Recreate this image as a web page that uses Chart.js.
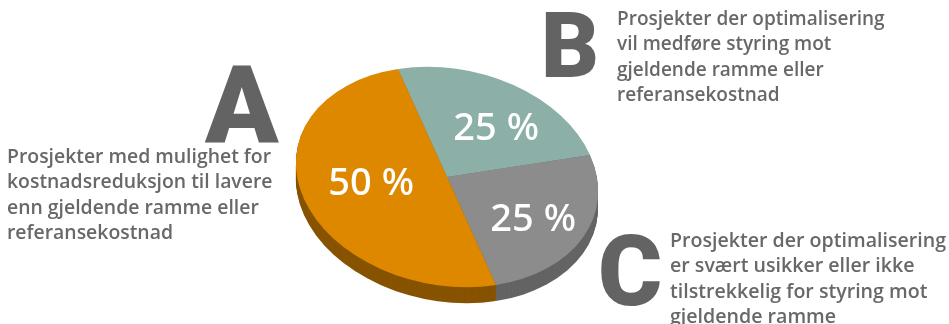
<!DOCTYPE html>
<html>
<head>
<meta charset="utf-8">
<script src="https://cdn.jsdelivr.net/npm/chart.js@4"></script>
<style>
  html, body { margin: 0; padding: 0; background: #fff; }
  #wrap { width: 949px; height: 324px; position: relative; }
</style>
</head>
<body>
<div id="wrap"><canvas id="pie" width="949" height="324"></canvas></div>
<script>
// data in drawing order, clockwise from the top
const categories = ['B', 'C', 'A'];
const shares = [25, 25, 50];
const valueLabels = ['25 %', '25 %', '50 %'];
const topColors = ['#8cb0a8', '#8c8c8c', '#de8800'];
const sideColors = ['#5f7d76', '#646464', '#875300'];

const notes = {
  A: ['Prosjekter med mulighet for', 'kostnadsreduksjon til lavere', 'enn gjeldende ramme eller', 'referansekostnad'],
  B: ['Prosjekter der optimalisering', 'vil medføre styring mot', 'gjeldende ramme eller', 'referansekostnad'],
  C: ['Prosjekter der optimalisering', 'er svært usikker eller ikke', 'tilstrekkelig for styring mot', 'gjeldende ramme'],
};

// where the tilted disc sits on the page
const CX = 447, CY = 177, DEPTH = 16;
// images of the circle's right and bottom radius
const RIGHT = [143, -22], DOWN = [49, 108];
// small hand nudges for the value labels
const NUDGE = [[8, 9], [2, 5], [0, -4]];

function tilt(ctx, x, y, r, dy) {
  ctx.translate(CX, CY + dy);
  ctx.transform(RIGHT[0] / r, RIGHT[1] / r, DOWN[0] / r, DOWN[1] / r, 0, 0);
  ctx.translate(-x, -y);
}

const disc = {
  id: 'disc',
  beforeDatasetsDraw(chart) {
    const ctx = chart.ctx;
    const arcs = chart.getDatasetMeta(0).data;
    const { x, y, outerRadius: r } = arcs[0];
    for (let d = DEPTH; d > 0; d--) {
      ctx.save();
      tilt(ctx, x, y, r, d);
      arcs.forEach((a, i) => {
        ctx.beginPath();
        ctx.moveTo(x, y);
        ctx.arc(x, y, r, a.startAngle, a.endAngle);
        ctx.closePath();
        ctx.fillStyle = sideColors[i];
        ctx.fill();
      });
      ctx.restore();
    }
    ctx.save();
    tilt(ctx, x, y, r, 0);
  },
  afterDatasetsDraw(chart) {
    const ctx = chart.ctx;
    ctx.restore();
    const arcs = chart.getDatasetMeta(0).data;
    ctx.save();
    ctx.fillStyle = '#fff';
    ctx.font = '500 38px "Noto Sans"';
    ctx.textAlign = 'center';
    ctx.textBaseline = 'middle';
    arcs.forEach((a, i) => {
      const mid = (a.startAngle + a.endAngle) / 2;
      const k = i === 2 ? 0.53 : 0.62;
      const c = Math.cos(mid) * k, s = Math.sin(mid) * k;
      ctx.fillText(valueLabels[i],
        CX + RIGHT[0] * c + DOWN[0] * s + NUDGE[i][0],
        CY + RIGHT[1] * c + DOWN[1] * s + NUDGE[i][1]);
    });
    ctx.restore();
  },
  afterDraw(chart) {
    const ctx = chart.ctx;
    ctx.save();
    ctx.textBaseline = 'alphabetic';
    ctx.fillStyle = '#636363';
    ctx.font = '900 108px Roboto';
    ctx.fillText('A', 205, 142);
    ctx.font = '900 90px Roboto';
    ctx.fillText('B', 541, 77);
    ctx.font = '900 98px Roboto';
    ctx.fillText('C', 598, 305);

    ctx.fillStyle = '#686868';
    const block = (lines, x, y0, size) => {
      ctx.font = `600 ${size}px "Open Sans"`;
      lines.forEach((t, i) => ctx.fillText(t, x, y0 + i * 25.4));
    };
    block(notes.A, 7, 163, 19.4);
    block(notes.B, 617, 25, 19);
    block(notes.C, 670, 247, 19.6);
    ctx.restore();
  }
};

new Chart(document.getElementById('pie'), {
  type: 'pie',
  data: {
    labels: categories,
    datasets: [{
      data: shares,
      backgroundColor: topColors,
      borderWidth: 0,
      hoverOffset: 0,
    }]
  },
  options: {
    responsive: false,
    animation: false,
    events: [],
    plugins: {
      legend: { display: false },
      tooltip: { enabled: false }
    }
  },
  plugins: [disc]
});
</script>
</body>
</html>
